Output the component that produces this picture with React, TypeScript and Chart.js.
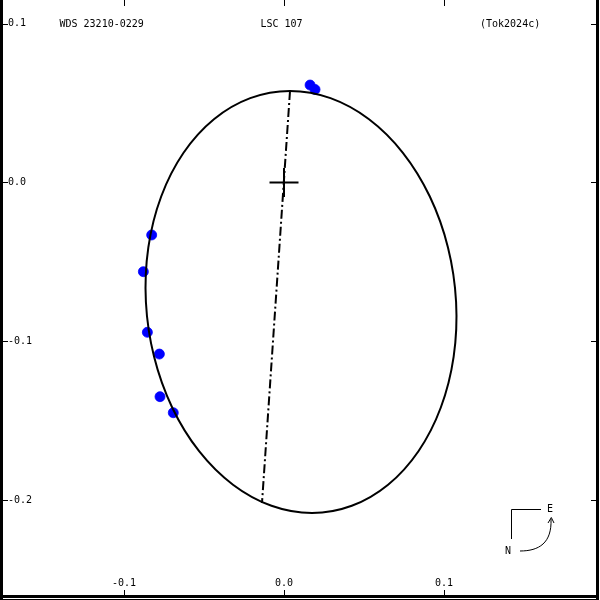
import { useEffect, useRef } from 'react';
import { Chart, registerables } from 'chart.js';

Chart.register(...registerables);

// Apparent orbit (every 15 degrees of the ellipse)
const orbitX = [0.00375, 0.02907, 0.05314, 0.07431, 0.09114, 0.10248, 0.10756, 0.10604, 0.09801, 0.08403, 0.06505, 0.04236, 0.0175, -0.00782, -0.03189, -0.05306, -0.06989, -0.08123, -0.08631, -0.08479, -0.07676, -0.06278, -0.0438, -0.02111];
const orbitY = [0.05755, 0.05303, 0.03977, 0.01868, -0.00881, -0.04081, -0.07516, -0.1095, -0.14151, -0.16899, -0.19008, -0.20334, -0.20786, -0.20334, -0.19008, -0.16899, -0.14151, -0.1095, -0.07516, -0.04081, -0.00881, 0.01868, 0.03977, 0.05303];

// Observations
const obsX = [0.0163, 0.0194, -0.0827, -0.0879, -0.0854, -0.0779, -0.0775, -0.0692];
const obsY = [0.0613, 0.0585, -0.033, -0.0561, -0.0942, -0.1079, -0.1347, -0.1448];

// Line of nodes
const nodesX = [0.00375, -0.01375];
const nodesY = [0.0575, -0.2016];

// Primary
const primaryX = [0];
const primaryY = [0];

const xTicks = [-0.1, 0, 0.1];
const xTickLabels = ['-0.1', '0.0', '0.1'];
const yTicks = [0.1, 0, -0.1, -0.2];
const yTickLabels = ['0.1', '0.0', '-0.1', '-0.2'];

const titleLeft = 'WDS 23210-0229';
const titleMid = 'LSC 107';
const titleRight = '(Tok2024c)';

const FONT = '10px "DejaVu Sans Mono", "Liberation Mono", monospace';

const decorPlugin = {
  id: 'decor',
  afterDraw(chart: any) {
    const ctx = chart.ctx as CanvasRenderingContext2D;
    const xs = chart.scales.x;
    const ys = chart.scales.y;
    const W = chart.width;
    const H = chart.height;
    ctx.save();
    ctx.fillStyle = '#000';
    // frame
    ctx.fillRect(0, 0, 3, H - 1);
    ctx.fillRect(0, H - 5, W - 1, 3);
    ctx.fillRect(0, H - 1, W - 4, 1);
    ctx.fillRect(W - 4, 0, 3, H);
    // ticks
    ctx.strokeStyle = '#000';
    ctx.lineWidth = 1;
    ctx.beginPath();
    xTicks.forEach((v) => {
      const px = Math.round(xs.getPixelForValue(v)) + 0.5;
      ctx.moveTo(px, 0);
      ctx.lineTo(px, 6);
      ctx.moveTo(px, H - 5);
      ctx.lineTo(px, H - 10);
    });
    yTicks.forEach((v) => {
      const py = Math.round(ys.getPixelForValue(v)) + 0.5;
      ctx.moveTo(3, py);
      ctx.lineTo(8, py);
      ctx.moveTo(W - 4, py);
      ctx.lineTo(W - 9, py);
    });
    ctx.stroke();
    // tick labels
    ctx.font = FONT;
    ctx.textBaseline = 'middle';
    ctx.textAlign = 'center';
    xTicks.forEach((v, i) => {
      ctx.fillText(xTickLabels[i], xs.getPixelForValue(v), H - 17);
    });
    ctx.textAlign = 'left';
    yTicks.forEach((v, i) => {
      ctx.fillText(yTickLabels[i], 8, ys.getPixelForValue(v));
    });
    // titles
    ctx.fillText(titleLeft, 59.5, 24);
    ctx.fillText(titleMid, 260.5, 24);
    ctx.fillText(titleRight, 480, 24);
    // compass
    const cx = W - 89;
    const cy = H - 91;
    ctx.beginPath();
    ctx.moveTo(cx + 0.5, cy + 30);
    ctx.lineTo(cx + 0.5, cy + 0.5);
    ctx.lineTo(cx + 30, cy + 0.5);
    ctx.stroke();
    ctx.textAlign = 'center';
    ctx.fillText('E', cx + 39, cy);
    ctx.fillText('N', cx - 3, cy + 42);
    ctx.beginPath();
    ctx.moveTo(cx + 9, cy + 42);
    ctx.bezierCurveTo(cx + 28, cy + 42, cx + 41, cy + 34, cx + 40, cy + 10);
    ctx.stroke();
    ctx.beginPath();
    ctx.moveTo(cx + 37, cy + 14);
    ctx.lineTo(cx + 40.3, cy + 8.5);
    ctx.lineTo(cx + 43, cy + 14);
    ctx.stroke();
    ctx.restore();
  },
};

export default function App() {
  const ref = useRef<HTMLCanvasElement | null>(null);

  useEffect(() => {
    if (!ref.current) return;
    const n = orbitX.length;
    const orbitPts = orbitX.map((x, i) => ({ x, y: orbitY[i] }));
    const closed = [orbitPts[n - 1], ...orbitPts, orbitPts[0], orbitPts[1]];
    const last = closed.length - 1;

    const chart = new Chart(ref.current, {
      type: 'scatter',
      data: {
        datasets: [
          {
            label: 'orbit',
            data: closed,
            showLine: true,
            tension: 0.34,
            borderColor: '#000',
            borderWidth: 2,
            pointRadius: 0,
            order: 0,
            segment: {
              borderColor: (c: any) =>
                c.p0DataIndex === 0 || c.p1DataIndex === last ? 'rgba(0,0,0,0)' : undefined,
            },
          } as any,
          {
            label: 'nodes',
            data: nodesX.map((x, i) => ({ x, y: nodesY[i] })),
            showLine: true,
            borderColor: '#000',
            borderWidth: 2,
            borderDash: [9, 3, 2, 3],
            pointRadius: 0,
            order: 0,
          },
          {
            label: 'primary',
            data: primaryX.map((x, i) => ({ x, y: primaryY[i] })),
            pointStyle: 'cross',
            pointRadius: 14.5,
            pointBorderWidth: 2,
            borderColor: '#000',
            backgroundColor: '#000',
            order: 0,
          },
          {
            label: 'obs',
            data: obsX.map((x, i) => ({ x, y: obsY[i] })),
            pointRadius: 5,
            pointBorderWidth: 0.8,
            borderColor: '#0000ff',
            backgroundColor: '#0000ff',
            order: 1,
          },
        ],
      },
      options: {
        responsive: false,
        animation: false,
        events: [],
        layout: { padding: 0, autoPadding: false },
        plugins: {
          legend: { display: false },
          tooltip: { enabled: false },
          title: { display: false },
        },
        scales: {
          x: { type: 'linear', display: false, min: -0.1775, max: 0.1975 },
          y: { type: 'linear', display: false, min: -0.262579, max: 0.11478 },
        },
      },
      plugins: [decorPlugin],
    });
    return () => chart.destroy();
  }, []);

  return (
    <div style={{ position: 'absolute', left: 0, top: 0, width: 600, height: 600, background: '#fff' }}>
      <canvas ref={ref} width={600} height={600} style={{ display: 'block' }} />
    </div>
  );
}
